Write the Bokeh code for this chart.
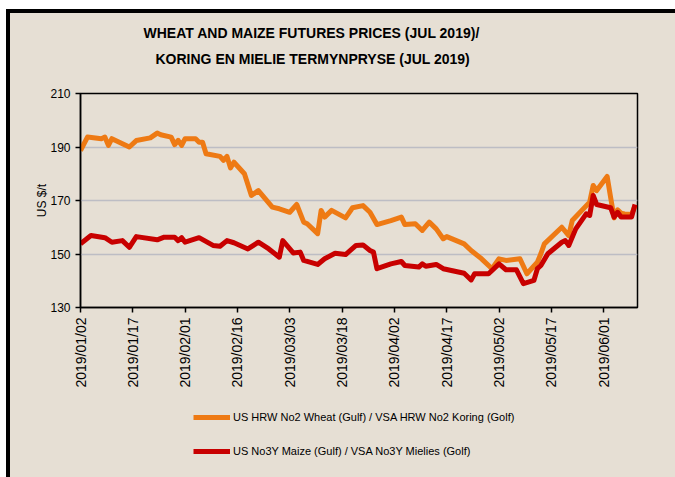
import pandas as pd
from math import pi
from bokeh.plotting import figure
from bokeh.layouts import column
from bokeh.models import (FixedTicker, DatetimeTickFormatter, Legend, LegendItem,
                          Title, Range1d)
from bokeh.embed import file_html
from bokeh.resources import INLINE

# ---------------- data ----------------
wheat_dates = ["2019-01-02", "2019-01-04", "2019-01-08", "2019-01-09", "2019-01-10", "2019-01-11",
               "2019-01-16", "2019-01-18", "2019-01-22", "2019-01-24", "2019-01-25", "2019-01-28",
               "2019-01-29", "2019-01-30", "2019-01-31", "2019-02-01", "2019-02-04", "2019-02-05",
               "2019-02-06", "2019-02-07", "2019-02-11", "2019-02-12", "2019-02-13", "2019-02-14",
               "2019-02-15", "2019-02-18", "2019-02-20", "2019-02-22", "2019-02-26", "2019-02-28",
               "2019-03-03", "2019-03-05", "2019-03-07", "2019-03-08", "2019-03-11", "2019-03-12",
               "2019-03-13", "2019-03-15", "2019-03-19", "2019-03-21", "2019-03-24", "2019-03-26",
               "2019-03-28", "2019-04-01", "2019-04-04", "2019-04-05", "2019-04-08", "2019-04-10",
               "2019-04-12", "2019-04-14", "2019-04-16", "2019-04-17", "2019-04-22", "2019-04-24",
               "2019-04-27", "2019-04-30", "2019-05-02", "2019-05-04", "2019-05-08", "2019-05-10",
               "2019-05-13", "2019-05-14", "2019-05-15", "2019-05-20", "2019-05-22", "2019-05-23",
               "2019-05-28", "2019-05-29", "2019-05-30", "2019-06-02", "2019-06-03", "2019-06-04",
               "2019-06-05", "2019-06-06", "2019-06-07", "2019-06-09", "2019-06-10"]
wheat_prices = [188.7, 193.7, 193.1, 193.7, 190.6, 193.1,
                190.0, 192.4, 193.4, 195.2, 194.6, 193.7,
                190.9, 192.5, 190.6, 193.1, 193.1, 191.8,
                191.8, 187.5, 186.5, 185.0, 186.5, 182.2,
                184.3, 180.0, 171.9, 173.7, 167.5, 166.9,
                165.6, 168.5, 161.9, 161.3, 157.6, 166.3,
                163.8, 166.3, 163.5, 167.3, 168.1, 165.6,
                161.0, 162.5, 163.8, 161.0, 161.3, 158.8,
                161.9, 159.4, 155.7, 156.5, 153.8, 151.3,
                148.2, 144.5, 148.2, 147.6, 148.2, 142.6,
                146.9, 150.1, 153.8, 160.0, 156.9, 162.5,
                169.4, 175.6, 173.7, 179.0, 171.2, 163.5,
                166.5, 165.3, 165.0, 164.8, 168.0]

maize_dates = ["2019-01-02", "2019-01-05", "2019-01-09", "2019-01-11", "2019-01-14", "2019-01-16",
               "2019-01-18", "2019-01-24", "2019-01-26", "2019-01-29", "2019-01-30", "2019-01-31",
               "2019-02-01", "2019-02-05", "2019-02-09", "2019-02-11", "2019-02-13", "2019-02-15",
               "2019-02-19", "2019-02-22", "2019-02-25", "2019-02-28", "2019-03-01", "2019-03-04",
               "2019-03-06", "2019-03-07", "2019-03-11", "2019-03-13", "2019-03-16", "2019-03-19",
               "2019-03-22", "2019-03-24", "2019-03-26", "2019-03-27", "2019-03-28", "2019-04-01",
               "2019-04-04", "2019-04-05", "2019-04-09", "2019-04-10", "2019-04-11", "2019-04-14",
               "2019-04-16", "2019-04-22", "2019-04-24", "2019-04-25", "2019-04-29", "2019-05-02",
               "2019-05-04", "2019-05-07", "2019-05-09", "2019-05-12", "2019-05-13", "2019-05-14",
               "2019-05-16", "2019-05-20", "2019-05-21", "2019-05-22", "2019-05-24", "2019-05-27",
               "2019-05-28", "2019-05-29", "2019-05-30", "2019-06-03", "2019-06-04", "2019-06-05",
               "2019-06-06", "2019-06-09", "2019-06-10"]
maize_prices = [153.8, 156.9, 156.1, 154.4, 155.0, 152.5,
                156.5, 155.3, 156.3, 156.3, 155.0, 156.1,
                154.4, 156.1, 153.2, 152.9, 155.0, 154.2,
                151.9, 154.4, 151.9, 148.8, 155.0, 150.4,
                150.7, 147.6, 146.1, 148.2, 150.3, 149.8,
                153.2, 153.4, 151.3, 150.7, 144.5, 146.3,
                147.2, 145.7, 145.1, 146.3, 145.4, 146.1,
                144.5, 142.8, 140.3, 142.6, 142.6, 146.3,
                144.1, 144.1, 138.9, 140.1, 144.5, 145.7,
                150.1, 154.4, 155.0, 153.2, 159.4, 165.0,
                164.4, 171.9, 168.5, 167.3, 163.8, 165.6,
                163.8, 163.8, 168.5]

tick_labels = ["2019/01/02", "2019/01/17", "2019/02/01", "2019/02/16", "2019/03/03", "2019/03/18",
               "2019/04/02", "2019/04/17", "2019/05/02", "2019/05/17", "2019/06/01"]
y_ticks = [130, 150, 170, 190, 210]
y_grid = [150, 170, 190]

title_1 = "WHEAT AND MAIZE FUTURES PRICES (JUL 2019)/"
title_2 = "KORING EN MIELIE TERMYNPRYSE (JUL 2019)"
y_label = "US $/t"
wheat_name = "US HRW No2 Wheat (Gulf) / VSA HRW No2 Koring (Golf)"
maize_name = "US No3Y Maize (Gulf) / VSA No3Y Mielies (Golf)"

# ---------------- styling ----------------
BG = "#E6DFD4"
ORANGE = "#EE7A14"
RED = "#C80000"
SANS = "Liberation Sans, Arial, sans-serif"

wd = pd.to_datetime(wheat_dates)
md = pd.to_datetime(maize_dates)
tick_ms = [pd.Timestamp(t.replace("/", "-")).value // 10**6 for t in tick_labels]

# ---------------- main chart ----------------
p = figure(frame_width=557, frame_height=214, x_axis_type="datetime",
           x_range=Range1d(pd.Timestamp("2019-01-02"), pd.Timestamp("2019-06-10 17:00")),
           y_range=Range1d(130, 210),
           min_border_left=70, min_border_right=38, min_border_top=80, min_border_bottom=90,
           background_fill_color=BG, border_fill_color=BG,
           output_backend="svg", toolbar_location=None)

p.outline_line_color = "black"
p.outline_line_width = 1.5

p.xgrid.visible = False
p.ygrid.ticker = FixedTicker(ticks=y_grid)
p.ygrid.grid_line_color = "#BDBDC4"
p.ygrid.grid_line_width = 1.5

ya = p.yaxis[0]
ya.ticker = FixedTicker(ticks=y_ticks)
ya.axis_line_color = "black"
ya.axis_line_width = 1.5
ya.major_tick_out = 5
ya.major_tick_in = 0
ya.major_tick_line_width = 1.5
ya.minor_tick_line_color = None
ya.major_label_text_font = SANS
ya.major_label_text_font_size = "12px"
ya.major_label_text_color = "black"
ya.axis_label = y_label
ya.axis_label_text_font = SANS
ya.axis_label_text_font_style = "normal"
ya.axis_label_text_font_size = "12px"
ya.axis_label_text_color = "black"
ya.axis_label_standoff = -2

xa = p.xaxis[0]
xa.ticker = FixedTicker(ticks=tick_ms)
fmt = "%Y/%m/%d"
xa.formatter = DatetimeTickFormatter(days=fmt, months=fmt, years=fmt, hours=fmt,
                                     hourmin=fmt, minutes=fmt, seconds=fmt)
xa.major_label_orientation = pi / 2
xa.axis_line_color = "black"
xa.axis_line_width = 1.5
xa.major_tick_out = 5
xa.major_tick_in = 0
xa.major_tick_line_width = 1.5
xa.minor_tick_line_color = None
xa.major_label_text_font = SANS
xa.major_label_text_font_size = "14px"
xa.major_label_text_color = "black"

r_w = p.line(wd, wheat_prices, line_width=5, line_color=ORANGE, line_join="round")
r_m = p.line(md, maize_prices, line_width=5, line_color=RED, line_join="round")

# title: spacer nearest the plot, then line 2, then line 1
p.add_layout(Title(text=" ", text_font_size="14px", standoff=8), "above")
p.add_layout(Title(text=title_2, align="left", offset=75, standoff=2,
                   text_font=SANS, text_font_style="bold", text_font_size="14px",
                   text_color="black"), "above")
p.add_layout(Title(text=title_1, align="left", offset=63, standoff=14,
                   text_font=SANS, text_font_style="bold", text_font_size="14px",
                   text_color="black"), "above")

# ---------------- legend strip below the chart ----------------
pl = figure(frame_width=557, frame_height=54, x_range=Range1d(0, 1), y_range=Range1d(0, 1),
            x_axis_type=None, y_axis_type=None,
            min_border_left=70, min_border_right=38, min_border_top=10, min_border_bottom=16,
            background_fill_color=BG, border_fill_color=BG, outline_line_color=None,
            output_backend="svg", toolbar_location=None)
pl.xgrid.visible = False
pl.ygrid.visible = False
nan = float("nan")
s_w = pl.line(x=[nan], y=[nan], line_width=5, line_color=ORANGE)
s_m = pl.line(x=[nan], y=[nan], line_width=5, line_color=RED)

legend = Legend(items=[LegendItem(label=wheat_name, renderers=[s_w]),
                       LegendItem(label=maize_name, renderers=[s_m])],
                location=(113, 0), orientation="vertical")
legend.background_fill_alpha = 0
legend.border_line_alpha = 0
legend.padding = 0
legend.margin = 0
legend.spacing = 14
legend.glyph_width = 37
legend.glyph_height = 20
legend.label_height = 20
legend.label_standoff = 3
legend.label_text_font = SANS
legend.label_text_font_size = "11px"
legend.label_text_color = "black"
pl.add_layout(legend, "center")

layout = column(p, pl, spacing=0)
layout.styles = {"position": "relative", "left": "10px", "top": "13px",
                 "background-color": BG,
                 "box-shadow": "-4px -4px 0px 0px #000000, 0px -4px 0px 0px #000000, -4px 0px 0px 0px #000000"}

open("out.html", "w").write(file_html(layout, INLINE))
